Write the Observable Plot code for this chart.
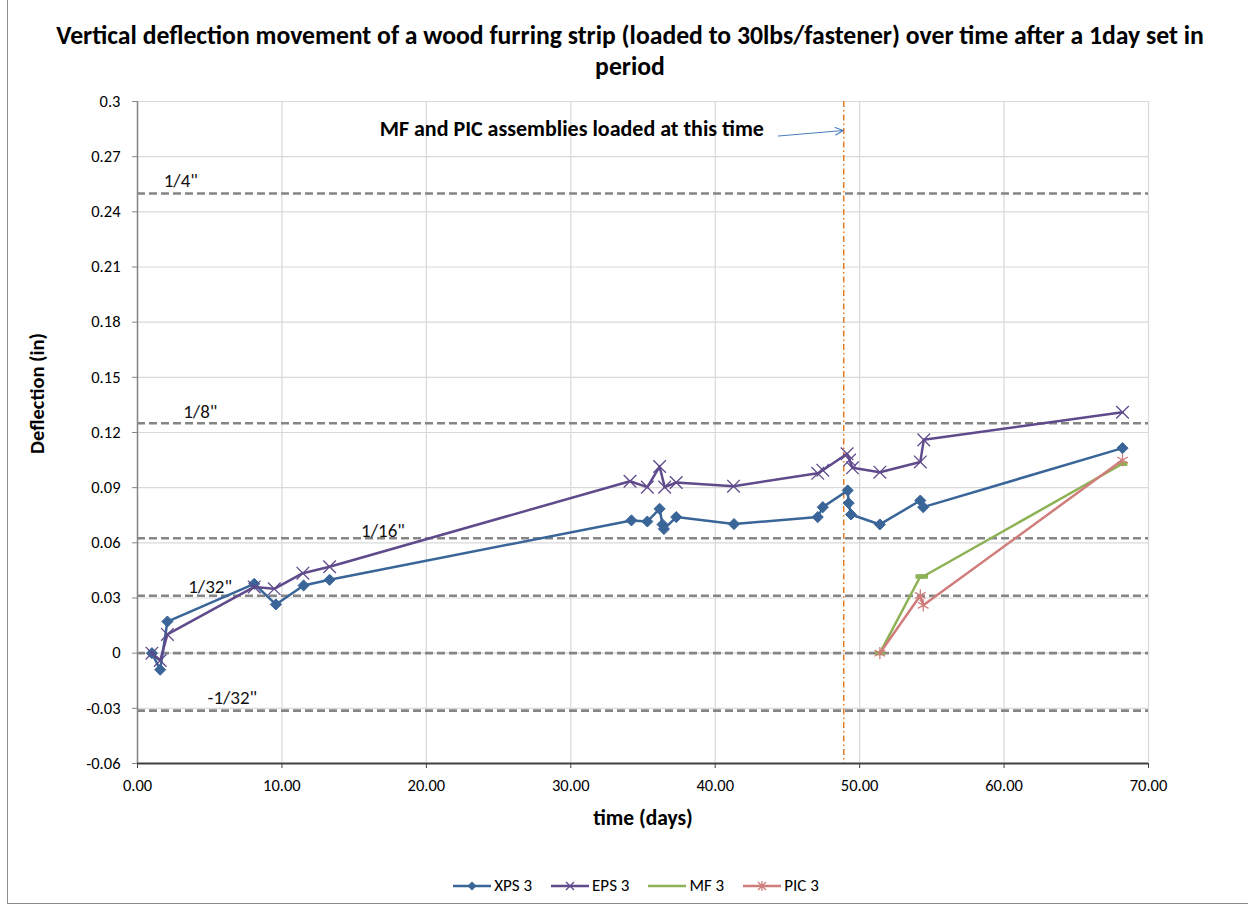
<!DOCTYPE html>
<html>
<head>
<meta charset="utf-8">
<script src="https://cdn.jsdelivr.net/npm/d3@7"></script>
<script src="https://cdn.jsdelivr.net/npm/@observablehq/plot@0.6"></script>
<style>
  body { margin: 0; background: #fff; font-family: Carlito, Lato, "Open Sans", sans-serif; }
  #wrap { position: relative; width: 1248px; height: 910px; overflow: hidden; }
  #border { position: absolute; left: 7px; top: -2px; width: 1260px; height: 906px; border: 1px solid #8c8c8c; box-sizing: border-box; }
  #title { position: absolute; left: 0; top: 20px; width: 1260px; text-align: center; font-weight: bold; font-size: 25.7px; line-height: 31px; color: #000; }
  #legend { position: absolute; left: 0; top: 875px; width: 1272px; display: flex; justify-content: center; gap: 19px; font-size: 17px; color: #000; }
  .item { display: flex; align-items: center; gap: 3px; }
  #chart { position: absolute; left: 0; top: 0; }
  #chart g[aria-label$="tick label"], #chart g[aria-label$="tick label"] text { font-size: 16.5px !important; }
</style>
</head>
<body>
<div id="wrap">
  <div id="border"></div>
  <div id="chart"></div>
  <div id="title">Vertical deflection movement of a wood furring strip (loaded to 30lbs/fastener) over time after a 1day set in<br>period</div>
  <div id="legend"></div>
</div>
<script>
// ---- data ----
const xpsX = [1.0, 1.57, 2.07, 8.08, 9.58, 11.5, 13.3, 34.2, 35.3, 36.15, 36.35, 36.45, 37.3, 41.3, 47.1, 47.45, 49.17, 49.24, 49.4, 51.4, 54.2, 54.4, 68.2];
const xpsY = [0, -0.009, 0.0172, 0.0377, 0.0265, 0.0368, 0.0399, 0.0722, 0.0716, 0.0785, 0.0700, 0.0675, 0.0740, 0.0702, 0.0740, 0.0794, 0.0885, 0.0816, 0.0754, 0.0700, 0.0830, 0.0794, 0.1115];

const epsX = [1.0, 1.57, 2.07, 8.08, 9.47, 11.45, 13.3, 34.1, 35.3, 36.15, 36.5, 37.3, 41.27, 47.1, 47.45, 49.13, 49.3, 49.5, 51.4, 54.2, 54.44, 68.2];
const epsY = [0, -0.004, 0.0102, 0.0360, 0.0350, 0.0435, 0.0470, 0.0935, 0.0903, 0.1015, 0.0903, 0.0928, 0.0908, 0.0978, 0.0995, 0.1084, 0.1050, 0.1008, 0.0984, 0.1040, 0.1160, 0.1310];

const mfX = [51.4, 54.2, 54.4, 68.2];
const mfY = [0, 0.0417, 0.0417, 0.1030];

const picX = [51.4, 54.2, 54.4, 68.2];
const picY = [0, 0.0314, 0.0260, 0.1050];

const seriesNames = ["XPS 3", "EPS 3", "MF 3", "PIC 3"];

const refValues = [0.25, 0.125, 0.0625, 0.03125, 0, -0.03125];
const refLabels = ["1/4\"", "1/8\"", "1/16\"", "1/32\"", "", "-1/32\""];
const refLabelX = [3.0, 4.35, 17.0, 5.03, 0, 6.57];
const refLabelY = [0.257, 0.1314, 0.0667, 0.0362, 0, -0.0241];

const loadTime = [48.9];
const noteText = ["MF and PIC assemblies loaded at this time"];
const noteX = [30.07];
const noteY = [0.2853];
const arrowX1 = [44.37], arrowY1 = [0.2812], arrowX2 = [48.87], arrowY2 = [0.2842];

const xTicks = [0, 10, 20, 30, 40, 50, 60, 70];
const xTickLabels = ["0.00", "10.00", "20.00", "30.00", "40.00", "50.00", "60.00", "70.00"];
const yTicks = [-0.06, -0.03, 0, 0.03, 0.06, 0.09, 0.12, 0.15, 0.18, 0.21, 0.24, 0.27, 0.3];
const yTickLabels = ["-0.06", "-0.03", "0", "0.03", "0.06", "0.09", "0.12", "0.15", "0.18", "0.21", "0.24", "0.27", "0.3"];

// ---- build tables ----
const toRows = (xs, ys) => xs.map((x, i) => ({x, y: ys[i]}));
const xps = toRows(xpsX, xpsY);
const eps = toRows(epsX, epsY);
const mf = toRows(mfX, mfY);
const pic = toRows(picX, picY);
const refs = refValues.map((v, i) => ({v, label: refLabels[i], lx: refLabelX[i], ly: refLabelY[i]}));
const refText = refs.filter(d => d.label);
const notes = noteText.map((t, i) => ({t, x: noteX[i], y: noteY[i]}));
const arrows = arrowX1.map((x1, i) => ({x1, y1: arrowY1[i], x2: arrowX2[i], y2: arrowY2[i]}));

const C = {xps: "#3A6598", eps: "#5F4A8B", mf: "#8DB255", pic: "#D07D7B"};

const barSymbol = { draw(ctx, size) { const w = Math.sqrt(size) * 1.1, h = w * 0.45; ctx.rect(-w / 2, -h / 2, w, h); } };

const FONT = "Carlito, Lato, 'Open Sans', sans-serif";

const chart = Plot.plot({
  width: 1248,
  height: 910,
  marginLeft: 137,
  marginRight: 100,
  marginTop: 101,
  marginBottom: 147,
  style: {fontFamily: FONT, fontSize: "16.5px", background: "transparent", color: "#000"},
  x: {domain: [0, 70]},
  y: {domain: [-0.06, 0.3]},
  marks: [
    Plot.gridX(xTicks, {stroke: "#d9d9d9", strokeOpacity: 1, strokeWidth: 1.2}),
    Plot.gridY(yTicks, {stroke: "#d9d9d9", strokeOpacity: 1, strokeWidth: 1.2}),
    Plot.ruleY(refs, {y: "v", stroke: "#858585", strokeWidth: 2.6, strokeDasharray: "8,4"}),
    Plot.text(refText, {x: "lx", y: "ly", text: "label", fontSize: 19, fill: "#111"}),
    Plot.ruleX(loadTime, {stroke: "#E46C0A", strokeWidth: 1.3, strokeDasharray: "6,3,1.5,3"}),
    Plot.axisY({ticks: yTicks, tickFormat: d => yTickLabels[yTicks.indexOf(d)], tickSize: 5, tickPadding: 12, stroke: "#868686", label: null, fontSize: 16.5}),
    Plot.axisX({ticks: xTicks, tickFormat: d => xTickLabels[xTicks.indexOf(d)], tickSize: 5, tickPadding: 11, stroke: "#404040", label: null, fontSize: 16.5}),
    Plot.ruleX([0], {stroke: "#868686", strokeWidth: 1.5}),
    Plot.ruleY([-0.06], {stroke: "#404040", strokeWidth: 1.8}),
    Plot.line(xps, {x: "x", y: "y", stroke: C.xps, strokeWidth: 2.5}),
    Plot.dot(xps, {x: "x", y: "y", symbol: "diamond2", r: 5, fill: C.xps, stroke: C.xps, strokeWidth: 1}),
    Plot.line(eps, {x: "x", y: "y", stroke: C.eps, strokeWidth: 2.5}),
    Plot.dot(eps, {x: "x", y: "y", symbol: "times", r: 5.8, stroke: C.eps, strokeWidth: 1.3}),
    Plot.line(mf, {x: "x", y: "y", stroke: C.mf, strokeWidth: 2.5}),
    Plot.dot(mf, {x: "x", y: "y", symbol: barSymbol, r: 5, fill: C.mf, stroke: "none"}),
    Plot.line(pic, {x: "x", y: "y", stroke: C.pic, strokeWidth: 2.5}),
    Plot.dot(pic, {x: "x", y: "y", symbol: "asterisk", r: 5.8, stroke: C.pic, strokeWidth: 1.3}),
    Plot.text(notes, {x: "x", y: "y", text: "t", fontSize: 22, fontWeight: "bold", fill: "#000"}),
    Plot.arrow(arrows, {x1: "x1", y1: "y1", x2: "x2", y2: "y2", stroke: "#4A7EBB", strokeWidth: 1.1, headLength: 12, headAngle: 50}),
    Plot.text(["Deflection (in)"], {frameAnchor: "left", textAnchor: "middle", dx: -100, dy: -39, rotate: -90, fontSize: 20.5, fontWeight: "bold", fill: "#000"}),
    Plot.text(["time (days)"], {frameAnchor: "bottom", dy: 61, fontSize: 21.5, fontWeight: "bold", fill: "#000"})
  ]
});
document.getElementById("chart").appendChild(chart);

// ---- legend ----
const legendSym = {
  "XPS 3": {c: C.xps, m: `<path d="M19,1.5 L23.5,6 L19,10.5 L14.5,6 Z" fill="${C.xps}"/>`},
  "EPS 3": {c: C.eps, m: `<path d="M15,2 L23,10 M23,2 L15,10" stroke="${C.eps}" stroke-width="1.3"/>`},
  "MF 3": {c: C.mf, m: ``},
  "PIC 3": {c: C.pic, m: `<path d="M15,2 L23,10 M23,2 L15,10 M19,1 L19,11" stroke="${C.pic}" stroke-width="1.3"/>`}
};
const lg = document.getElementById("legend");
seriesNames.forEach(n => {
  const s = legendSym[n];
  const it = document.createElement("div");
  it.className = "item";
  it.innerHTML = `<svg width="38" height="12"><line x1="0" y1="6" x2="38" y2="6" stroke="${s.c}" stroke-width="2.5"/>${s.m}</svg><span>${n}</span>`;
  lg.appendChild(it);
});
</script>
</body>
</html>
